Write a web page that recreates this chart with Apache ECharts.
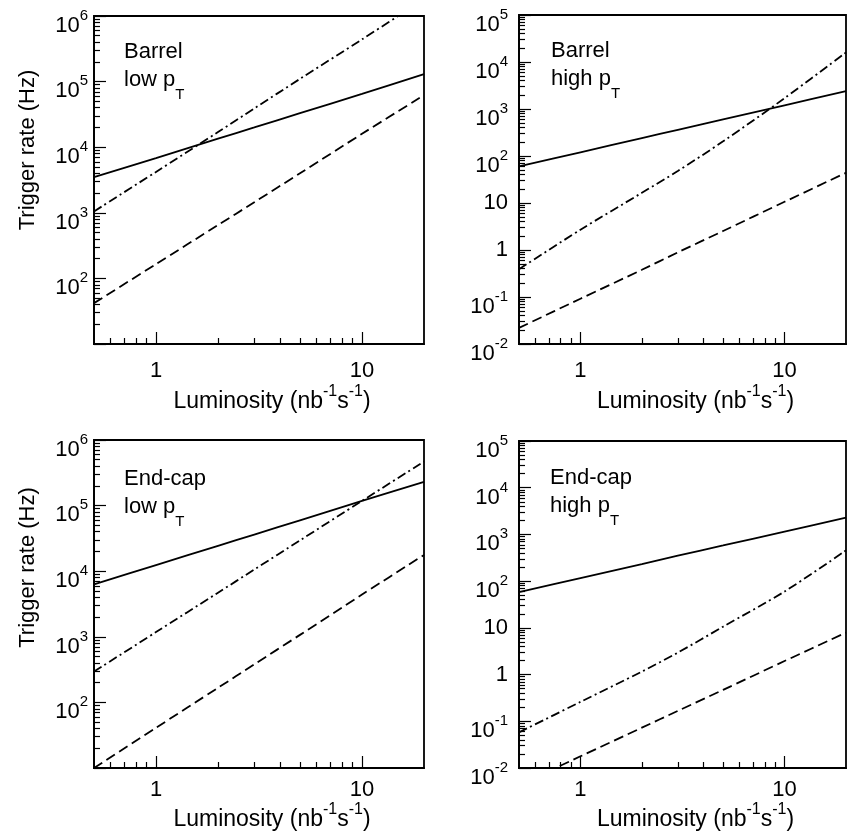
<!DOCTYPE html>
<html>
<head>
<meta charset="utf-8">
<script src="https://cdn.jsdelivr.net/npm/echarts@6.0.0/dist/echarts.min.js"></script>
<style>
html, body { margin: 0; background: #fff; }
#chart { width: 849px; height: 840px; }
</style>
</head>
<body>
<div id="chart"></div>
<script>
// luminosity points (nb^-1 s^-1) where the curves were read
const lum = [0.5, 1, 2, 3, 5, 10, 20];

// Barrel, low pT (Hz)
const barrelLowSolid   = [3500, 6800, 13500, 20000, 33000, 65000, 130000];
const barrelLowDashDot = [1050, 4200, 17000, 39000, 110000, 440000, 1800000];
const barrelLowDashed  = [42, 165, 650, 1450, 4000, 16000, 62000];

// Barrel, high pT
const barrelHighSolid   = [60, 120, 240, 360, 600, 1200, 2400];
const barrelHighDashDot = [0.39, 2.7, 16.5, 48, 205, 1700, 16000];
const barrelHighDashed  = [0.022, 0.092, 0.38, 0.89, 2.54, 10.6, 44];

// End-cap, low pT
const endcapLowSolid   = [6300, 12400, 24400, 36200, 59700, 118000, 230000];
const endcapLowDashDot = [295, 1180, 4700, 10600, 29500, 118000, 470000];
const endcapLowDashed  = [10, 41, 167, 380, 1070, 4400, 17700];

// End-cap, high pT
const endcapHighSolid   = [58, 116, 230, 350, 580, 1150, 2300];
const endcapHighDashDot = [0.058, 0.26, 1.16, 2.95, 10.6, 60, 455];
const endcapHighDashed  = [0.0043, 0.0178, 0.073, 0.167, 0.47, 1.95, 7.9];

// ticks
const xMajor = [1, 10];
const xMinor = [0.6, 0.7, 0.8, 0.9, 2, 3, 4, 5, 6, 7, 8, 9];
const yDecLow = [10, 1e2, 1e3, 1e4, 1e5, 1e6];
const yLabLow = [1e2, 1e3, 1e4, 1e5, 1e6];
const yDecHigh = [0.01, 0.1, 1, 10, 100, 1e3, 1e4, 1e5];
const yLabHigh = yDecHigh;

const FONT = '"Liberation Sans", Arial, sans-serif';
const INK = '#000';

function minorOf(decades) {
  const out = [];
  for (let i = 0; i < decades.length - 1; i++) {
    for (let k = 2; k <= 9; k++) out.push(+(decades[i] * k).toPrecision(3));
  }
  return out;
}

function yLabel(v) {
  const e = Math.round(Math.log10(v));
  if (e === 0) return '{p|1}';
  if (e === 1) return '{p|10}';
  return '{m|10}{s|' + e + '}';
}

const panels = [
  { title: 'Barrel', sub: 'low', left: 94, top: 16, width: 330, height: 328,
    ymin: 10, ymax: 1e6, dec: yDecLow, lab: yLabLow, yName: true, yNamePad: 60,
    yMargin: 6, xMargin: 16, xNameGap: 40, tx: 124, ty: 41,
    solid: barrelLowSolid, dashdot: barrelLowDashDot, dashed: barrelLowDashed },
  { title: 'Barrel', sub: 'high', left: 519, top: 15, width: 327, height: 329,
    ymin: 0.01, ymax: 1e5, dec: yDecHigh, lab: yLabHigh, yName: false,
    yMargin: 11, xMargin: 16, xNameGap: 40, tx: 551, ty: 40,
    solid: barrelHighSolid, dashdot: barrelHighDashDot, dashed: barrelHighDashed },
  { title: 'End-cap', sub: 'low', left: 94, top: 440, width: 330, height: 328,
    ymin: 10, ymax: 1e6, dec: yDecLow, lab: yLabLow, yName: true, yNamePad: 73,
    yMargin: 6, xMargin: 11, xNameGap: 31, tx: 124, ty: 468,
    solid: endcapLowSolid, dashdot: endcapLowDashDot, dashed: endcapLowDashed },
  { title: 'End-cap', sub: 'high', left: 519, top: 441, width: 327, height: 327,
    ymin: 0.01, ymax: 1e5, dec: yDecHigh, lab: yLabHigh, yName: false,
    yMargin: 11, xMargin: 11, xNameGap: 31, tx: 550, ty: 467,
    solid: endcapHighSolid, dashdot: endcapHighDashDot, dashed: endcapHighDashed }
];

const grid = [], xAxis = [], yAxis = [], series = [], title = [];

panels.forEach(function (p, i) {
  grid.push({
    left: p.left, top: p.top, width: p.width, height: p.height,
    show: true, borderColor: INK, borderWidth: 1.8, outerBoundsMode: 'none'
  });

  xAxis.push({
    type: 'log', gridIndex: i, position: 'bottom', min: 0.5, max: 20,
    axisLine: { show: true, lineStyle: { color: INK, width: 1.8 } },
    axisTick: { show: true, inside: true, length: 12, customValues: xMajor,
      lineStyle: { color: INK, width: 1.2 } },
    axisLabel: { show: true, customValues: xMajor, margin: p.xMargin,
      color: INK, fontSize: 22, fontFamily: FONT,
      formatter: function (v) { return String(Math.round(v)); } },
    splitLine: { show: false },
    name: '{n|Luminosity (nb}{s|-1}{n|s}{s|-1}{n|)}',
    nameLocation: 'middle', nameGap: p.xNameGap,
    nameTextStyle: {
      color: INK, fontFamily: FONT, padding: [0, 0, 0, 26],
      rich: {
        n: { fontSize: 23, lineHeight: 36, fontFamily: FONT, color: INK },
        s: { fontSize: 16, lineHeight: 16, verticalAlign: 'top', fontFamily: FONT, color: INK }
      }
    }
  }, {
    type: 'log', gridIndex: i, position: 'bottom', min: 0.5, max: 20,
    axisLine: { show: false },
    axisTick: { show: true, inside: true, length: 6, customValues: xMinor,
      lineStyle: { color: INK, width: 1.2 } },
    axisLabel: { show: false },
    splitLine: { show: false }
  });

  const yMain = {
    type: 'log', gridIndex: i, position: 'left', min: p.ymin, max: p.ymax,
    axisLine: { show: true, lineStyle: { color: INK, width: 1.8 } },
    axisTick: { show: true, inside: true, length: 12, customValues: p.dec,
      lineStyle: { color: INK, width: 1.2 } },
    axisLabel: {
      show: true, customValues: p.lab, margin: p.yMargin, color: INK,
      fontFamily: FONT, formatter: yLabel,
      rich: {
        p: { fontSize: 22, fontFamily: FONT, color: INK },
        m: { fontSize: 22, lineHeight: 15.5, padding: [6.5, 0, 0, 0], verticalAlign: 'top',
          fontFamily: FONT, color: INK },
        s: { fontSize: 15, lineHeight: 15, verticalAlign: 'top', fontFamily: FONT, color: INK }
      }
    },
    splitLine: { show: false }
  };
  if (p.yName) {
    yMain.name = 'Trigger rate (Hz)';
    yMain.nameLocation = 'middle';
    yMain.nameGap = 55;
    yMain.nameTextStyle = { color: INK, fontFamily: FONT, fontSize: 22,
      padding: [0, 0, 0, p.yNamePad] };
  }
  yAxis.push(yMain, {
    type: 'log', gridIndex: i, position: 'left', min: p.ymin, max: p.ymax,
    axisLine: { show: false },
    axisTick: { show: true, inside: true, length: 6, customValues: minorOf(p.dec),
      lineStyle: { color: INK, width: 1.2 } },
    axisLabel: { show: false },
    splitLine: { show: false }
  });

  const styles = [
    ['solid', p.solid, 'solid'],
    ['dashdot', p.dashdot, [9, 3.5, 2, 3.5]],
    ['dashed', p.dashed, [10, 5]]
  ];
  styles.forEach(function (s) {
    series.push({
      type: 'line', name: s[0], xAxisIndex: 2 * i, yAxisIndex: 2 * i,
      data: lum.map(function (x, k) { return [x, s[1][k]]; }),
      showSymbol: false, symbol: 'none', smooth: 0.3, clip: true,
      lineStyle: { color: INK, width: 1.8, type: s[2] }
    });
  });

  title.push({
    text: '{a|' + p.title + '}\n{a|' + p.sub + ' p}{t|T}',
    left: p.tx, top: p.ty, padding: 0,
    textStyle: {
      fontWeight: 'normal',
      rich: {
        a: { fontSize: 22, lineHeight: 28, verticalAlign: 'top', fontWeight: 'normal',
          fontFamily: FONT, color: INK },
        t: { fontSize: 15, lineHeight: 15, padding: [18.5, 0, 0, 0], verticalAlign: 'top',
          fontWeight: 'normal', fontFamily: FONT, color: INK }
      }
    }
  });
});

const chart = echarts.init(document.getElementById('chart'));
chart.setOption({
  animation: false,
  backgroundColor: '#fff',
  title: title,
  grid: grid,
  xAxis: xAxis,
  yAxis: yAxis,
  series: series
});
</script>
</body>
</html>
